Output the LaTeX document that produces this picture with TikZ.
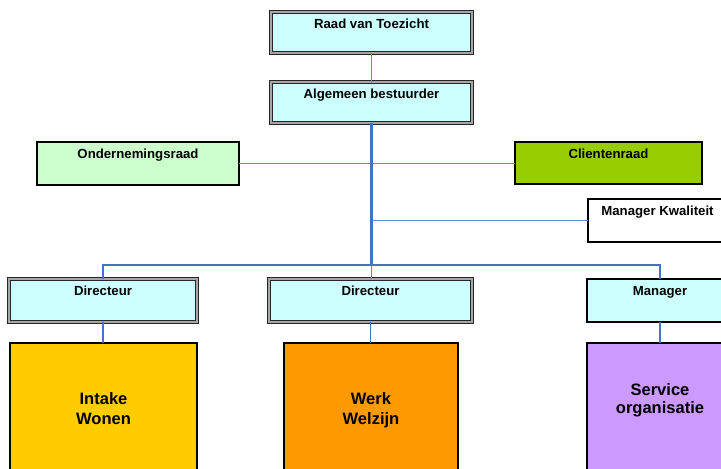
\documentclass[tikz,border=0pt]{standalone}
\usepackage{fontspec}
\setmainfont{Liberation Sans}
\usetikzlibrary{fit}
\definecolor{cyanfill}{HTML}{CCFFFF}
\definecolor{ondfill}{HTML}{CCFFCC}
\definecolor{clifill}{HTML}{99CC00}
\definecolor{yelfill}{HTML}{FFCC00}
\definecolor{orafill}{HTML}{FF9900}
\definecolor{purfill}{HTML}{CC99FF}
\definecolor{darkblue}{HTML}{4472C4}
\definecolor{lightblue}{HTML}{5F88D2}
\tikzset{
  boxbase/.style={inner sep=0pt, outer sep=0pt},
  dblbox/.style={boxbase, draw=black!85, line width=0.75pt, double=gray!70, double distance=0.9pt, fill=cyanfill},
  plainbox/.style={boxbase, draw=black, line width=0.8pt},
  thickbox/.style={boxbase, draw=black, line width=2.2pt, fill=cyanfill},
  lbl/.style={font=\bfseries\fontsize{9.9pt}{11pt}\selectfont, inner sep=0pt, anchor=base, yshift=-12.4pt},
  biglbl/.style={font=\bfseries\fontsize{12.4pt}{15pt}\selectfont, inner sep=0pt, align=center, anchor=north},
  conlight/.style={draw=lightblue, line width=1.4pt},
  condark/.style={draw=darkblue, line width=1.8pt},
  conbar/.style={draw=darkblue, line width=1.2pt},
}
\begin{document}
\begin{tikzpicture}[x=0.75pt, y=-0.75pt]
\useasboundingbox (0,0) rectangle (721,468);
% boxes
\node[dblbox, fit={(271,12)(472,53)}, label={[lbl]north:Raad van Toezicht}] (raad) {};
\node[dblbox, fit={(271,82)(472,123)}, label={[lbl]north:Algemeen bestuurder}] (alg) {};
\node[plainbox, fill=ondfill, fit={(37,142)(239,185)}, label={[lbl]north:Ondernemingsraad}] (ond) {};
\node[plainbox, fill=clifill, fit={(515,142)(702,184)}, label={[lbl]north:Clientenraad}] (cli) {};
\node[plainbox, fill=white, fit={(588,199)(727,242)}, label={[lbl]north:Manager Kwaliteit}] (mk) {};
\node[dblbox, fit={(9,279)(197,322)}, label={[lbl]north:Directeur}] (dir1) {};
\node[dblbox, fit={(269,279)(472,322)}, label={[lbl]north:Directeur}] (dir2) {};
\node[thickbox, fit={(587,279)(733,322)}, label={[lbl]north:Manager}] (mgr) {};
\node[plainbox, fill=yelfill, fit={(10,343)(197,480)}, label={[biglbl, yshift=-37pt]north:Intake\\Wonen}] (intake) {};
\node[plainbox, fill=orafill, fit={(284,343)(458,480)}, label={[biglbl, yshift=-37pt]north:Werk\\Welzijn}] (werk) {};
\node[plainbox, fill=purfill, fit={(587,343)(733,480)}, label={[biglbl, font=\bfseries\fontsize{12.4pt}{13.5pt}\selectfont, yshift=-30.4pt]north:Service\\organisatie}] (service) {};
% junctions
\coordinate (barc) at (371.5,265);
\coordinate (mkj) at (alg.south |- mk.west);
% connectors
\draw[conlight] (raad.south) -- (alg.north);
\draw[conlight] (ond.east) -- (ond.east -| cli.west);
\draw[conlight] (mkj) -- (mk.west);
\draw[condark] (alg.south) -- (barc);
\draw[conlight] (barc) -- (barc |- dir2.north);
\draw[conbar] (dir1.north) -- (dir1.north |- barc) -- (mgr.north |- barc) -- (mgr.north);
\draw[conbar] (dir1.south) -- (dir1.south |- intake.north);
\draw[conbar] (dir2.south) -- (dir2.south |- werk.north);
\draw[conbar] (mgr.south) -- (mgr.south |- service.north);
\end{tikzpicture}
\end{document}
